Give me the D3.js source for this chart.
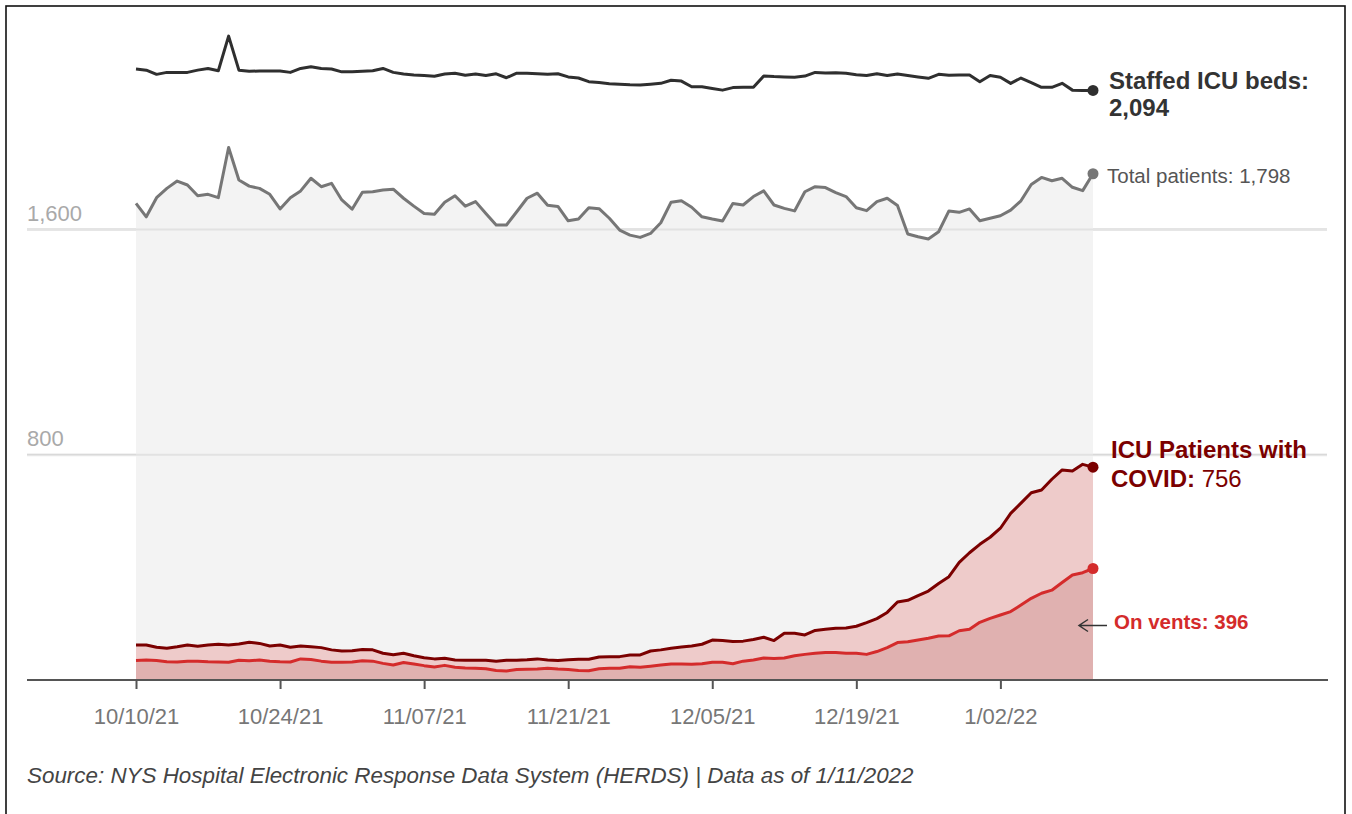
<!DOCTYPE html>
<html>
<head>
<meta charset="utf-8">
<script src="https://cdn.jsdelivr.net/npm/d3@7"></script>
<style>
  body { margin: 0; background: #fff; }
  svg text { font-family: "Liberation Sans", Arial, sans-serif; }
</style>
</head>
<body>
<div id="chart"></div>
<script>
// daily values 10/10/21 -> 1/11/22
var startDate = "2021-10-10";

var staffedBeds = [2170, 2166, 2151, 2158, 2158, 2158, 2166, 2172, 2164, 2287,
    2166, 2162, 2163, 2163, 2163, 2158, 2172, 2178, 2172, 2170,
    2160, 2160, 2162, 2164, 2172, 2158, 2152, 2149, 2147, 2144,
    2152, 2155, 2148, 2152, 2147, 2153, 2139, 2155, 2155, 2153,
    2151, 2153, 2142, 2138, 2125, 2122, 2118, 2116, 2114, 2113,
    2116, 2119, 2130, 2127, 2107, 2107, 2101, 2095, 2104, 2105,
    2105, 2145, 2143, 2142, 2141, 2145, 2158, 2156, 2157, 2155,
    2150, 2147, 2153, 2147, 2152, 2147, 2142, 2137, 2151, 2148,
    2149, 2149, 2125, 2147, 2141, 2119, 2138, 2122, 2105, 2105,
    2119, 2095, 2094, 2094];

var totalPatients = [1693, 1645, 1713, 1746, 1772, 1758, 1720, 1725, 1713, 1891,
    1776, 1754, 1746, 1725, 1673, 1713, 1737, 1782, 1752, 1764,
    1705, 1672, 1732, 1734, 1740, 1743, 1711, 1683, 1657, 1654,
    1697, 1720, 1683, 1699, 1657, 1616, 1616, 1663, 1711, 1729,
    1686, 1682, 1631, 1637, 1677, 1674, 1640, 1598, 1580, 1572,
    1586, 1624, 1697, 1702, 1679, 1645, 1637, 1630, 1692, 1687,
    1717, 1737, 1687, 1675, 1666, 1734, 1752, 1749, 1731, 1717,
    1677, 1667, 1699, 1711, 1685, 1584, 1574, 1566, 1592, 1666,
    1661, 1673, 1631, 1640, 1649, 1669, 1702, 1760, 1785, 1773,
    1782, 1750, 1738, 1798];

var covidPatients = [124, 124, 116, 113, 118, 124, 120, 124, 127, 124,
    128, 134, 130, 121, 124, 116, 121, 118, 115, 107,
    103, 104, 108, 107, 95, 90, 95, 86, 79, 75,
    77, 71, 70, 70, 70, 67, 70, 70, 72, 75,
    71, 69, 72, 74, 74, 82, 83, 83, 89, 89,
    103, 107, 113, 117, 121, 127, 142, 140, 137, 138,
    144, 152, 140, 166, 166, 160, 176, 180, 184, 185,
    191, 204, 218, 240, 277, 283, 300, 316, 343, 367,
    418, 452, 482, 507, 539, 592, 628, 665, 675, 713,
    746, 742, 766, 756];

var onVents = [69, 71, 69, 65, 64, 67, 67, 65, 64, 63,
    70, 68, 71, 67, 65, 64, 75, 73, 67, 63,
    63, 64, 68, 67, 59, 53, 62, 57, 51, 46,
    52, 45, 43, 42, 40, 34, 32, 37, 38, 39,
    42, 39, 37, 34, 33, 40, 42, 42, 47, 45,
    49, 53, 57, 57, 56, 58, 63, 63, 58, 67,
    71, 78, 76, 78, 86, 91, 95, 98, 98, 95,
    95, 91, 101, 115, 133, 136, 142, 148, 156, 157,
    175, 180, 205, 219, 231, 243, 266, 290, 308, 319,
    346, 373, 381, 396];

var tickDates = ["2021-10-10", "2021-10-24", "2021-11-07", "2021-11-21",
    "2021-12-05", "2021-12-19", "2022-01-02"];
var yTicks = [800, 1600];

var parseDate = d3.utcParse("%Y-%m-%d");
var fmtDate = d3.utcFormat("%-m/%d/%y");
var start = parseDate(startDate);

var rows = staffedBeds.map(function (d, i) {
    return {
        date: d3.utcDay.offset(start, i),
        staffed: d,
        total: totalPatients[i],
        covid: covidPatients[i],
        vents: onVents[i]
    };
});
var last = rows[rows.length - 1];

var W = 1352, H = 814;
var svg = d3.select("#chart")
    .append("svg")
    .attr("width", W)
    .attr("height", H);

// outer frame
svg.append("rect")
    .attr("x", 6).attr("y", 6)
    .attr("width", 1339).attr("height", 830)
    .attr("fill", "none")
    .attr("stroke", "#111")
    .attr("stroke-width", 1.6);

var x = d3.scaleUtc()
    .domain([start, last.date])
    .range([136, 1093]);

var y = d3.scaleLinear()
    .domain([0, 1600])
    .range([680, 229.5]);

var gridLeft = 27, gridRight = 1327;

// grid lines (behind)
var grid = svg.append("g");
yTicks.forEach(function (t) {
    grid.append("line")
        .attr("x1", gridLeft).attr("x2", gridRight)
        .attr("y1", y(t) - 0.5).attr("y2", y(t) - 0.5)
        .attr("stroke", "#c8c8c8").attr("stroke-width", 1);
    grid.append("line")
        .attr("x1", gridLeft).attr("x2", gridRight)
        .attr("y1", y(t) + 0.8).attr("y2", y(t) + 0.8)
        .attr("stroke", "#e6e6e6").attr("stroke-width", 1.4);
    grid.append("text")
        .attr("x", gridLeft)
        .attr("y", y(t) - 9)
        .attr("fill", "#a9a9a9")
        .attr("font-size", "22px")
        .text(d3.format(",")(t));
});

// areas
var areaOf = function (key) {
    return d3.area()
        .x(function (d) { return x(d.date); })
        .y0(y(0))
        .y1(function (d) { return y(d[key]); });
};
svg.append("path").datum(rows).attr("fill", "#f3f3f3").attr("d", areaOf("total"));

// gridlines over grey area
yTicks.forEach(function (t) {
    svg.append("line")
        .attr("x1", x(start)).attr("x2", x(last.date))
        .attr("y1", y(t)).attr("y2", y(t))
        .attr("stroke", "#e2e2e2").attr("stroke-width", 2);
});

svg.append("path").datum(rows).attr("fill", "#eecbca").attr("d", areaOf("covid"));
svg.append("path").datum(rows).attr("fill", "#e0b1b0").attr("d", areaOf("vents"));

// x axis
var xAxis = svg.append("g")
    .attr("transform", "translate(0," + y(0) + ")")
    .call(d3.axisBottom(x)
        .tickValues(tickDates.map(parseDate))
        .tickFormat(fmtDate)
        .tickSize(9)
        .tickPadding(19));
xAxis.select(".domain").remove();
xAxis.selectAll(".tick line").attr("stroke", "#555").attr("stroke-width", 2);
xAxis.selectAll(".tick text")
    .attr("fill", "#777")
    .attr("font-size", "22px")
    .attr("font-family", "'Liberation Sans', Arial, sans-serif");
svg.append("line")
    .attr("x1", gridLeft).attr("x2", gridRight + 1)
    .attr("y1", y(0)).attr("y2", y(0))
    .attr("stroke", "#555").attr("stroke-width", 2);

// lines + end dots
var series = [
    { key: "staffed", color: "#2f2f2f" },
    { key: "total", color: "#767676" },
    { key: "covid", color: "#7b0000" },
    { key: "vents", color: "#d42b2b" }
];
series.forEach(function (s) {
    svg.append("path")
        .datum(rows)
        .attr("fill", "none")
        .attr("stroke", s.color)
        .attr("stroke-width", 3)
        .attr("stroke-linejoin", "round")
        .attr("d", d3.line()
            .x(function (d) { return x(d.date); })
            .y(function (d) { return y(d[s.key]); }));
    svg.append("circle")
        .attr("cx", x(last.date))
        .attr("cy", y(last[s.key]))
        .attr("r", 5.5)
        .attr("fill", s.color);
});

var fmt = d3.format(",");
var lx = x(last.date);

// labels
var t1 = svg.append("text").attr("x", lx + 16).attr("y", y(last.staffed) - 1)
    .attr("fill", "#333").attr("font-size", "24px").attr("font-weight", "bold");
t1.append("tspan").text("Staffed ICU beds:");
t1.append("tspan").attr("x", lx + 16).attr("dy", 27).text(fmt(last.staffed));

svg.append("text").attr("x", lx + 14).attr("y", y(last.total) + 9)
    .attr("fill", "#555").attr("font-size", "20.5px")
    .text("Total patients: " + fmt(last.total));

var t3 = svg.append("text").attr("x", lx + 18).attr("y", y(last.covid) - 9)
    .attr("fill", "#7b0000").attr("font-size", "24px");
t3.append("tspan").attr("font-weight", "bold").text("ICU Patients with");
var l2 = t3.append("tspan").attr("x", lx + 18).attr("dy", 28.5);
l2.append("tspan").attr("font-weight", "bold").text("COVID:");
l2.append("tspan").text(" " + fmt(last.covid));

// arrow pointing at the vents area
var ay = 625.5;
svg.append("path")
    .attr("d", "M" + (lx - 14) + "," + ay + "H" + (lx + 14) +
        "M" + (lx - 5) + "," + (ay - 6) + "L" + (lx - 14) + "," + ay + "L" + (lx - 5) + "," + (ay + 6))
    .attr("fill", "none")
    .attr("stroke", "#333")
    .attr("stroke-width", 1.5);
svg.append("text").attr("x", lx + 21).attr("y", 629)
    .attr("fill", "#d42b2b").attr("font-size", "20.5px").attr("font-weight", "bold")
    .text("On vents: " + fmt(last.vents));

// source note
svg.append("text")
    .attr("x", 27).attr("y", 783)
    .attr("fill", "#444")
    .attr("font-size", "22.4px")
    .attr("font-style", "italic")
    .text("Source: NYS Hospital Electronic Response Data System (HERDS) | Data as of 1/11/2022");
</script>
</body>
</html>
